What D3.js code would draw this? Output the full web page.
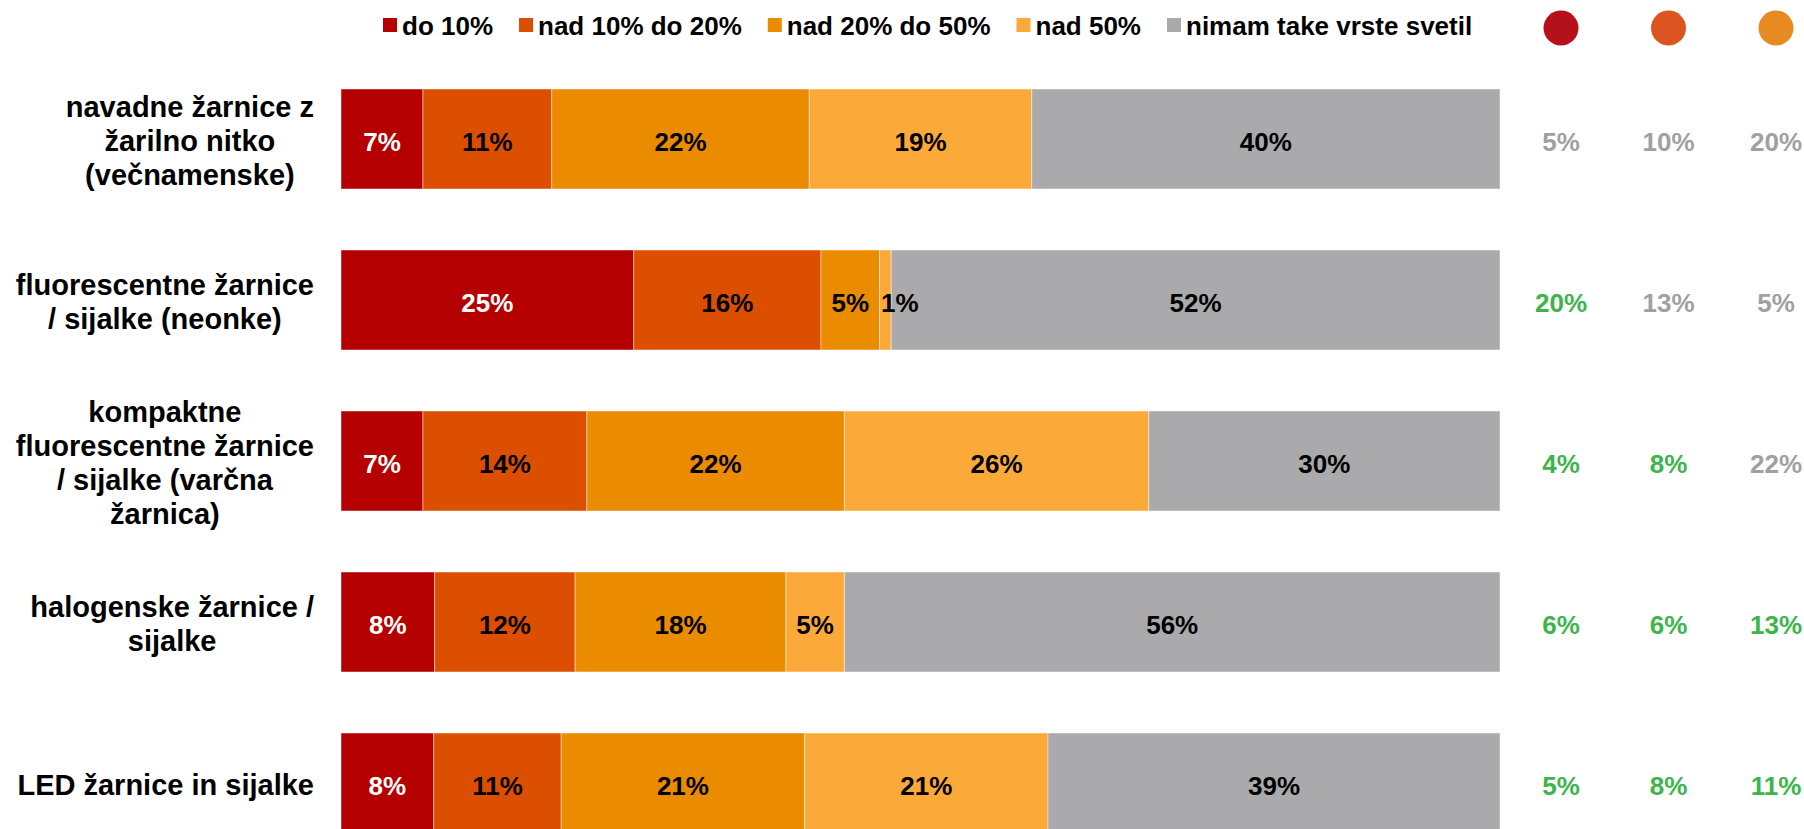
<!DOCTYPE html>
<html>
<head>
<meta charset="utf-8">
<script src="https://cdn.jsdelivr.net/npm/d3@7"></script>
<style>
  html, body { margin: 0; padding: 0; background: #fff; }
  svg { display: block; font-family: "Liberation Sans", Arial, sans-serif; font-weight: bold; }
</style>
</head>
<body>
<svg id="chart" width="1804" height="829"></svg>
<script>
// Light-source types (rows, top to bottom)
const categories = [
  "navadne žarnice z žarilno nitko (večnamenske)",
  "fluorescentne žarnice / sijalke (neonke)",
  "kompaktne fluorescentne žarnice / sijalke (varčna žarnica)",
  "halogenske žarnice / sijalke",
  "LED žarnice in sijalke"
];

// Answer groups (stack order, left to right)
const seriesNames = ["do 10%", "nad 10% do 20%", "nad 20% do 50%", "nad 50%", "nimam take vrste svetil"];
const seriesColors = ["#b50000", "#dd4f00", "#eb8b00", "#fbaa3a", "#aaaaac"];

// Share of respondents per answer group, one array per group (%)
const do10      = [7, 25, 7, 8, 8];
const nad10do20 = [11, 16, 14, 12, 11];
const nad20do50 = [22, 5, 22, 18, 21];
const nad50     = [19, 1, 26, 5, 21];
const nimam     = [40, 52, 30, 56, 39];

// Side columns: comparison values and whether each one is highlighted
const sideColors = ["#b5111a", "#db5421", "#e88a22"];
const side1 = [5, 20, 4, 6, 5];
const side2 = [10, 13, 8, 6, 8];
const side3 = [20, 5, 22, 13, 11];
const side1Hi = [false, true, true, true, true];
const side2Hi = [false, false, true, true, true];
const side3Hi = [false, false, false, true, true];

const seriesValues = [do10, nad10do20, nad20do50, nad50, nimam];
const rows = categories.map((c, i) => {
  const r = { category: c };
  seriesNames.forEach((s, k) => { r[s] = seriesValues[k][i]; });
  return r;
});

const svg = d3.select("#chart");

const x = d3.scaleLinear().domain([0, 1]).range([341, 1500]);
const y = d3.scaleBand().domain(categories).range([89, 833]).paddingInner(0.379).paddingOuter(0);
const color = d3.scaleOrdinal().domain(seriesNames).range(seriesColors);

const stack = d3.stack().keys(seriesNames).offset(d3.stackOffsetExpand);
const stacked = stack(rows);
const segments = stacked.flatMap(layer => layer.map(p => ({ p, key: layer.key })));

// Stacked 100% bars
svg.append("g").selectAll("rect")
  .data(segments)
  .join("rect")
  .attr("x", d => x(d.p[0]))
  .attr("y", d => y(d.p.data.category))
  .attr("width", d => x(d.p[1]) - x(d.p[0]))
  .attr("height", y.bandwidth())
  .attr("fill", d => color(d.key))
  .attr("stroke", "rgba(255,255,255,0.45)")
  .attr("stroke-width", 1);

// Value labels inside the segments (drawn above all bars)
const valueLabels = svg.append("g").selectAll("text")
  .data(segments)
  .join("text")
  .attr("x", d => (x(d.p[0]) + x(d.p[1])) / 2)
  .attr("y", d => y(d.p.data.category) + y.bandwidth() / 2)
  .attr("dy", "0.48em")
  .attr("text-anchor", "middle")
  .attr("font-size", 26)
  .attr("fill", d => d.key === seriesNames[0] ? "#ffffff" : "#000000")
  .text(d => d.p.data[d.key] + "%");

// Push labels of narrow neighbouring segments apart so they don't collide
categories.forEach(cat => {
  let prevRight = -Infinity;
  valueLabels.filter(d => d.p.data.category === cat)
    .sort((a, b) => a.p[0] - b.p[0])
    .each(function () {
      const el = d3.select(this);
      const w = this.getComputedTextLength();
      let cx = +el.attr("x");
      if (cx - w / 2 < prevRight + 12) cx = prevRight + 12 + w / 2;
      el.attr("x", cx);
      prevRight = cx + w / 2;
    });
});

// Category labels: wrapped, lines centred within a block that ends left of the bars
const labelRight = 314, labelMax = 308, lineH = 34, labelSize = 29;
const labelG = svg.append("g").attr("font-size", labelSize).attr("fill", "#000");
const measure = labelG.append("text").attr("visibility", "hidden");
function width(t) { measure.text(t); return measure.node().getComputedTextLength(); }

categories.forEach(cat => {
  const words = cat.split(" ");
  const lines = [];
  let cur = "";
  words.forEach(w => {
    const test = cur ? cur + " " + w : w;
    if (cur && width(test) > labelMax) { lines.push(cur); cur = w; }
    else cur = test;
  });
  if (cur) lines.push(cur);
  const blockW = d3.max(lines, l => width(l));
  const cx = labelRight - blockW / 2;
  const cy = y(cat) + y.bandwidth() / 2;
  const t = labelG.append("text").attr("text-anchor", "middle");
  lines.forEach((l, i) => {
    t.append("tspan")
      .attr("x", cx)
      .attr("y", cy + (i - (lines.length - 1) / 2) * lineH)
      .attr("dy", "0.42em")
      .text(l);
  });
});
measure.remove();

// Legend
const legend = svg.append("g").attr("font-size", 26);
let lx = 383;
seriesNames.forEach((s, i) => {
  legend.append("rect")
    .attr("x", lx).attr("y", 18).attr("width", 14).attr("height", 14)
    .attr("fill", seriesColors[i]);
  const t = legend.append("text")
    .attr("x", lx + 19).attr("y", 25).attr("dy", "0.4em")
    .attr("fill", "#000").text(s);
  lx += 19 + t.node().getComputedTextLength() + 26;
});

// Side columns with coloured markers
const sideX = d3.scalePoint().domain([0, 1, 2]).range([1561, 1776]);
const sideVals = [side1, side2, side3];
const sideHi = [side1Hi, side2Hi, side3Hi];
const side = svg.append("g");
sideColors.forEach((c, j) => {
  side.append("ellipse")
    .attr("cx", sideX(j)).attr("cy", 28)
    .attr("rx", 17.5).attr("ry", 17.5)
    .attr("fill", c);
  side.selectAll(null)
    .data(categories).join("text")
    .attr("x", sideX(j))
    .attr("y", d => y(d) + y.bandwidth() / 2)
    .attr("dy", "0.48em")
    .attr("text-anchor", "middle")
    .attr("font-size", 26)
    .attr("fill", (d, i) => sideHi[j][i] ? "#3db54a" : "#a0a0a2")
    .text((d, i) => sideVals[j][i] + "%");
});
</script>
</body>
</html>
